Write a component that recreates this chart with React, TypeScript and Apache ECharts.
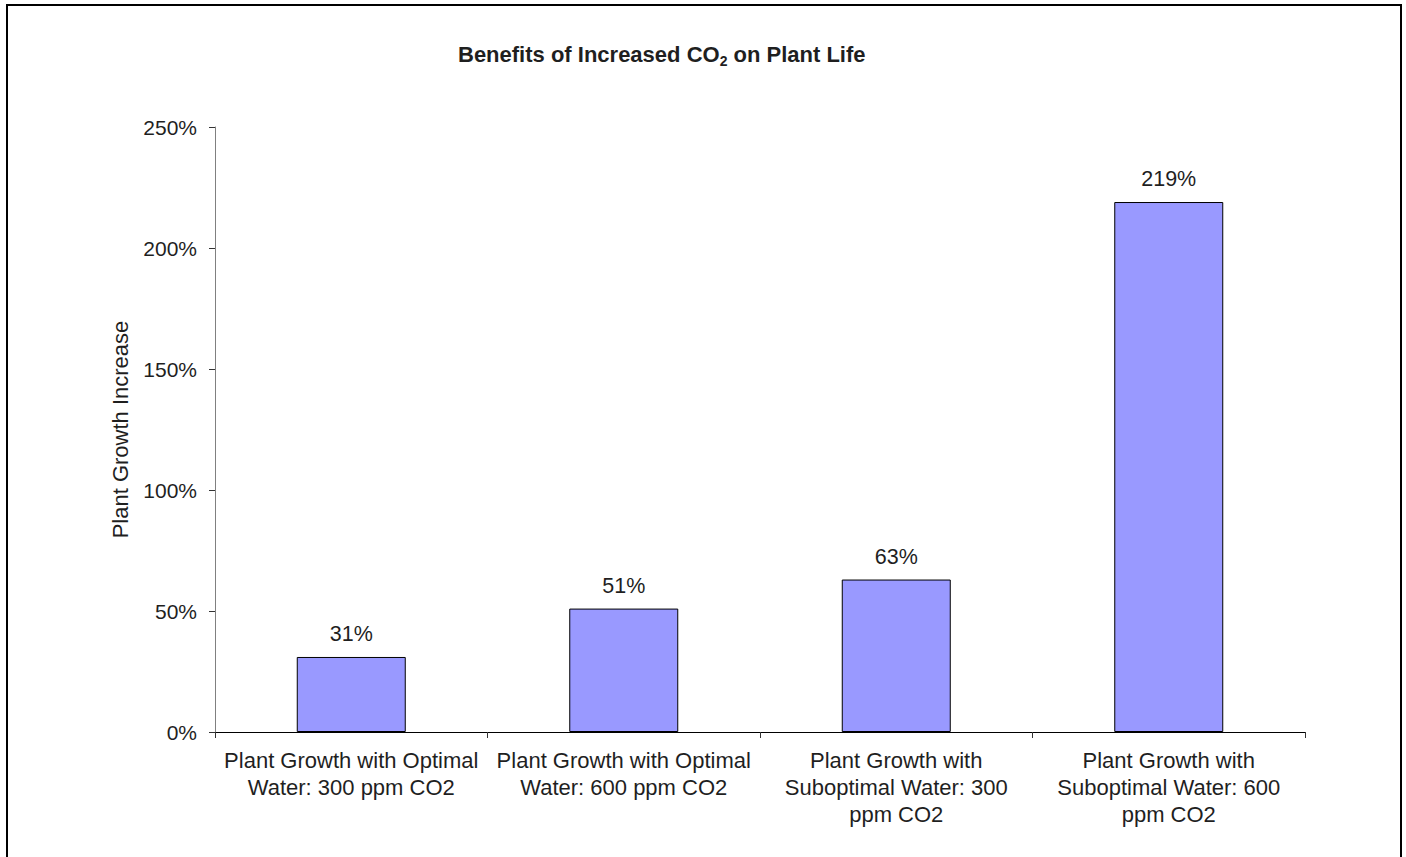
import React, { useEffect, useRef } from "react";
import * as echarts from "echarts";

const categories = [
  "Plant Growth with Optimal\nWater: 300 ppm CO2",
  "Plant Growth with Optimal\nWater: 600 ppm CO2",
  "Plant Growth with\nSuboptimal Water: 300\nppm CO2",
  "Plant Growth with\nSuboptimal Water: 600\nppm CO2",
];
const growthIncrease = [31, 51, 63, 219];
const yTicks = { min: 0, max: 250, interval: 50 };

const FONT = '"Liberation Sans", Arial, sans-serif';
const TEXT = "#1f1f1f";

export default function App() {
  const ref = useRef<HTMLDivElement>(null);
  useEffect(() => {
    if (!ref.current) return;
    const chart = echarts.init(ref.current, undefined, { renderer: "svg" });
    chart.setOption({
      animation: false,
      backgroundColor: "#ffffff",
      textStyle: { fontFamily: FONT },
      title: {
        text: "{a|Benefits of Increased CO}{s|2}{a| on Plant Life}",
        left: 458,
        top: 40,
        padding: 0,
        textStyle: {
          rich: {
            a: { fontFamily: FONT, fontWeight: "bold", fontSize: 22, lineHeight: 28, color: TEXT },
            s: { fontFamily: FONT, fontWeight: "bold", fontSize: 14, lineHeight: 14, verticalAlign: "bottom", color: TEXT },
          },
        },
      },
      graphic: [
        {
          type: "rect",
          shape: { x: 7, y: 5, width: 1394, height: 900 },
          style: { fill: "none", stroke: "#000", lineWidth: 2 },
          silent: true,
        },
      ],
      grid: { left: 215, right: 101, top: 127, bottom: 125, containLabel: false },
      xAxis: {
        type: "category",
        data: categories,
        axisLine: { lineStyle: { color: "#000", width: 1 } },
        axisTick: { show: true, length: 6, lineStyle: { color: "#333" } },
        axisLabel: {
          interval: 0,
          margin: 15,
          fontSize: 22,
          lineHeight: 27,
          color: TEXT,
          fontFamily: FONT,
          align: "center",
        },
      },
      yAxis: {
        type: "value",
        min: yTicks.min,
        max: yTicks.max,
        interval: yTicks.interval,
        name: "Plant Growth Increase",
        nameLocation: "middle",
        nameGap: 84,
        nameTextStyle: { fontSize: 22, color: TEXT, fontFamily: FONT },
        axisLine: { show: true, lineStyle: { color: "#808080", width: 1 } },
        axisTick: { show: true, length: 6, lineStyle: { color: "#333" } },
        splitLine: { show: false },
        axisLabel: {
          margin: 18,
          fontSize: 21,
          color: TEXT,
          fontFamily: FONT,
          formatter: (v: number) => `${v}%`,
        },
      },
      series: [
        {
          type: "bar",
          data: growthIncrease,
          barWidth: "40%",
          itemStyle: { color: "#9999FF", borderColor: "#000", borderWidth: 1 },
          label: {
            show: true,
            position: "top",
            distance: 12,
            fontSize: 21.5,
            color: TEXT,
            fontFamily: FONT,
            formatter: (p: any) => `${p.value}%`,
          },
        },
      ],
    });
    return () => chart.dispose();
  }, []);
  return (
    <div
      ref={ref}
      style={{ position: "absolute", left: 0, top: 0, width: 1406, height: 857, background: "#fff" }}
    />
  );
}
